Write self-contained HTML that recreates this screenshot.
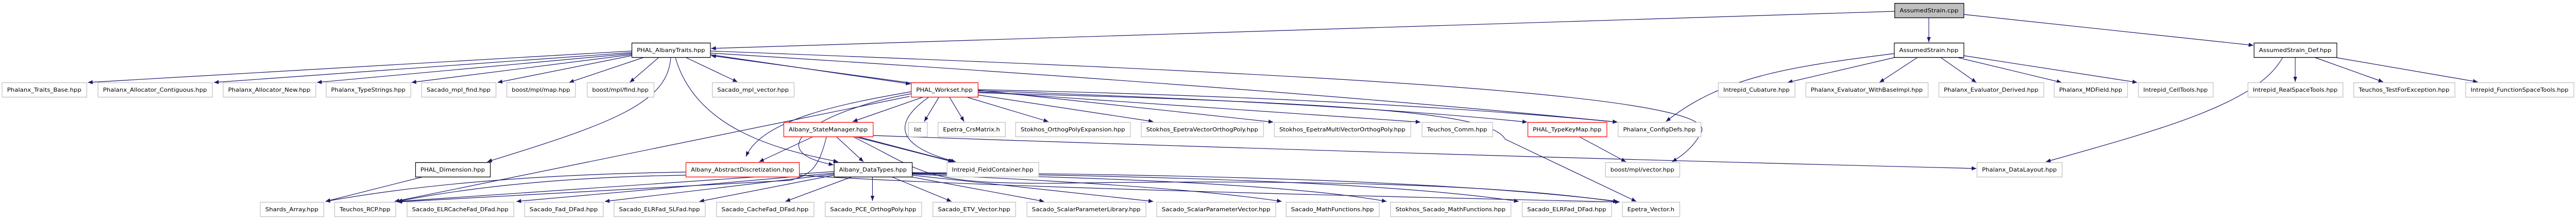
<!DOCTYPE html>
<html><head><meta charset="utf-8"><style>
html,body{margin:0;padding:0;background:#fff;width:100%;height:100%;overflow:hidden;}
svg{display:block;position:absolute;left:0;top:0;width:100vw;height:100vh;}
text{font-family:"DejaVu Sans","Liberation Sans",sans-serif;font-size:10.5px;fill:#000;}
.e{fill:none;stroke:#191970;stroke-width:1.2;marker-end:url(#a);}
</style></head><body>
<svg viewBox="0 0 5477 427" preserveAspectRatio="none" xmlns="http://www.w3.org/2000/svg" overflow="hidden">
<defs><marker id="a" markerUnits="userSpaceOnUse" markerWidth="11" markerHeight="8" refX="10" refY="4" orient="auto"><path d="M0,0 L10,4 L0,8 z" fill="#191970"/></marker></defs>
<g>
<path class="e" d="M4028,22 L1512,94"/>
<path class="e" d="M4101,34 L4101,82"/>
<path class="e" d="M4175,28 L4791,88"/>
<path class="e" d="M4027,104 C3800,130 3660,150 3542,236"/>
<path class="e" d="M4031,111 L3801,160"/>
<path class="e" d="M4076,112 L3996,160"/>
<path class="e" d="M4127,112 L4202,160"/>
<path class="e" d="M4164,112 L4383,160"/>
<path class="e" d="M4175,108 L4544,160"/>
<path class="e" d="M4853,112 C4800,200 4600,250 4350,314"/>
<path class="e" d="M4880,112 L4880,159"/>
<path class="e" d="M4923,112 L5067,159"/>
<path class="e" d="M4968,112 L5268,159"/>
<path class="e" d="M1343,99 L187,160"/>
<path class="e" d="M1343,102 L455,160"/>
<path class="e" d="M1343,104 L674,160"/>
<path class="e" d="M1343,106 L875,160"/>
<path class="e" d="M1343,108 L1058,160"/>
<path class="e" d="M1370,111 L1210,160"/>
<path class="e" d="M1400,112 L1339,160"/>
<path class="e" d="M1459,112 L1568,159"/>
<path class="e" d="M1426,112 C1420,200 1300,240 1036,314"/>
<path class="e" d="M1436,112 C1480,250 1650,290 1782,314"/>
<path class="e" d="M1510,106 L1936,163"/>
<path class="e" d="M1937,161 L1512,108"/>
<path class="e" d="M1510,103 Q2700,170 3439,237"/>
<path class="e" d="M1510,99 C2700,140 3650,180 3618,255 Q3600,290 3555,314"/>
<path class="e" d="M1961,189 L1813,236"/>
<path class="e" d="M1937,178 C1800,200 1620,230 1586,304"/>
<path class="e" d="M1937,182 C1760,210 1600,290 1772,320"/>
<path class="e" d="M1934,187 L839,391"/>
<path class="e" d="M1996,189 L1965,236"/>
<path class="e" d="M2019,189 L2050,236"/>
<path class="e" d="M2057,189 L2229,236"/>
<path class="e" d="M2077,184 L2452,236"/>
<path class="e" d="M2079,175 L2707,237"/>
<path class="e" d="M2079,178 L3020,237"/>
<path class="e" d="M2079,176 Q2850,200 3247,237"/>
<path class="e" d="M2079,174 Q2900,190 3439,237"/>
<path class="e" d="M1974,189 C1880,250 1930,290 2032,314"/>
<path class="e" d="M2079,180 C2900,200 3170,220 3200,270 L3479,391"/>
<path class="e" d="M1727,266 L1614,314"/>
<path class="e" d="M1779,266 L1836,314"/>
<path class="e" d="M1827,266 L2028,314"/>
<path class="e" d="M1820,266 L2026,314"/>
<path class="e" d="M1856,263 Q3000,300 4202,327"/>
<path class="e" d="M1757,266 C1740,330 1720,340 1680,350 L845,392"/>
<path class="e" d="M1815,266 C1980,340 1960,360 2300,355 Q3100,345 3440,392"/>
<path class="e" d="M1458,334 Q1000,340 692,391"/>
<path class="e" d="M1458,340 Q1100,345 845,391"/>
<path class="e" d="M1699,340 Q2100,365 3444,392"/>
<path class="e" d="M900,343 L692,391"/>
<path class="e" d="M1773,333 L845,391"/>
<path class="e" d="M1773,336 L1098,391"/>
<path class="e" d="M1773,338 L1286,391"/>
<path class="e" d="M1773,340 L1487,391"/>
<path class="e" d="M1812,343 L1670,391"/>
<path class="e" d="M1855,343 L1855,390"/>
<path class="e" d="M1895,343 L2023,391"/>
<path class="e" d="M1935,343 L2220,391"/>
<path class="e" d="M1939,340 L2452,391"/>
<path class="e" d="M1939,338 Q2500,360 2725,391"/>
<path class="e" d="M1939,337 Q2700,350 2948,391"/>
<path class="e" d="M1939,336 Q2900,345 3229,391"/>
<path class="e" d="M1939,335 Q3000,340 3440,391"/>
<path class="e" d="M3359,266 L3457,314"/>
</g>
<g id="nodes"></g>
</svg>
<script>
var N=[
["AssumedStrain.cpp",4028,4175,0,"c"],
["PHAL_AlbanyTraits.hpp",1343,1510,1,"k"],
["AssumedStrain.hpp",4027,4175,1,"k"],
["AssumedStrain_Def.hpp",4792,4968,1,"k"],
["Phalanx_Traits_Base.hpp",4,184,2,"g"],
["Phalanx_Allocator_Contiguous.hpp",208,451,2,"g"],
["Phalanx_Allocator_New.hpp",474,671,2,"g"],
["Phalanx_TypeStrings.hpp",693,873,2,"g"],
["Sacado_mpl_find.hpp",896,1054,2,"g"],
["boost/mpl/map.hpp",1077,1223,2,"g"],
["boost/mpl/find.hpp",1248,1390,2,"g"],
["Sacado_mpl_vector.hpp",1514,1688,2,"g"],
["PHAL_Workset.hpp",1937,2079,2,"r"],
["Intrepid_Cubature.hpp",3653,3816,2,"g"],
["Phalanx_Evaluator_WithBaseImpl.hpp",3839,4099,2,"g"],
["Phalanx_Evaluator_Derived.hpp",4122,4345,2,"g"],
["Phalanx_MDField.hpp",4367,4523,2,"g"],
["Intrepid_CellTools.hpp",4546,4705,2,"g"],
["Intrepid_RealSpaceTools.hpp",4779,4981,2,"g"],
["Teuchos_TestForException.hpp",5004,5219,2,"g"],
["Intrepid_FunctionSpaceTools.hpp",5242,5472,2,"g"],
["Albany_StateManager.hpp",1666,1856,3,"r"],
["list",1931,1971,3,"g"],
["Epetra_CrsMatrix.h",1994,2137,3,"g"],
["Stokhos_OrthogPolyExpansion.hpp",2159,2403,3,"g"],
["Stokhos_EpetraVectorOrthogPoly.hpp",2426,2686,3,"g"],
["Stokhos_EpetraMultiVectorOrthogPoly.hpp",2709,2999,3,"g"],
["Teuchos_Comm.hpp",3023,3173,3,"g"],
["PHAL_TypeKeyMap.hpp",3248,3416,3,"r"],
["Phalanx_ConfigDefs.hpp",3440,3616,3,"g"],
["PHAL_Dimension.hpp",883,1042,4,"k"],
["Albany_AbstractDiscretization.hpp",1458,1699,4,"r"],
["Albany_DataTypes.hpp",1773,1939,4,"k"],
["Intrepid_FieldContainer.hpp",2013,2208,4,"g"],
["boost/mpl/vector.hpp",3413,3571,4,"g"],
["Phalanx_DataLayout.hpp",4203,4384,4,"g"],
["Shards_Array.hpp",553,688,5,"g"],
["Teuchos_RCP.hpp",711,841,5,"g"],
["Sacado_ELRCacheFad_DFad.hpp",865,1092,5,"g"],
["Sacado_Fad_DFad.hpp",1115,1282,5,"g"],
["Sacado_ELRFad_SLFad.hpp",1305,1499,5,"g"],
["Sacado_CacheFad_DFad.hpp",1523,1730,5,"g"],
["Sacado_PCE_OrthogPoly.hpp",1754,1959,5,"g"],
["Sacado_ETV_Vector.hpp",1983,2159,5,"g"],
["Sacado_ScalarParameterLibrary.hpp",2183,2436,5,"g"],
["Sacado_ScalarParameterVector.hpp",2459,2712,5,"g"],
["Sacado_MathFunctions.hpp",2734,2932,5,"g"],
["Stokhos_Sacado_MathFunctions.hpp",2956,3212,5,"g"],
["Sacado_ELRFad_DFad.hpp",3236,3426,5,"g"],
["Epetra_Vector.h",3449,3571,5,"g"]];
var Y=[6,83,160,237,315,392],g=document.getElementById("nodes"),ns="http://www.w3.org/2000/svg";
N.forEach(function(n){var r=document.createElementNS(ns,"rect"),y=Y[n[3]],w=n[2]-n[1];
r.setAttribute("x",n[1]+.5);r.setAttribute("y",y+.5);r.setAttribute("width",w);r.setAttribute("height",28);
r.setAttribute("fill",n[4]=="c"?"#bfbfbf":"#fff");
r.setAttribute("stroke",n[4]=="g"?"#bfbfbf":n[4]=="r"?"#ff0000":"#000");r.setAttribute("stroke-width",1.3);
g.appendChild(r);var t=document.createElementNS(ns,"text");t.setAttribute("x",n[1]+w/2);t.setAttribute("y",y+18);
t.setAttribute("text-anchor","middle");t.textContent=n[0];if(w>40){t.setAttribute("textLength",w-22);t.setAttribute("lengthAdjust","spacingAndGlyphs");}
g.appendChild(t);});
</script>
</body></html>
